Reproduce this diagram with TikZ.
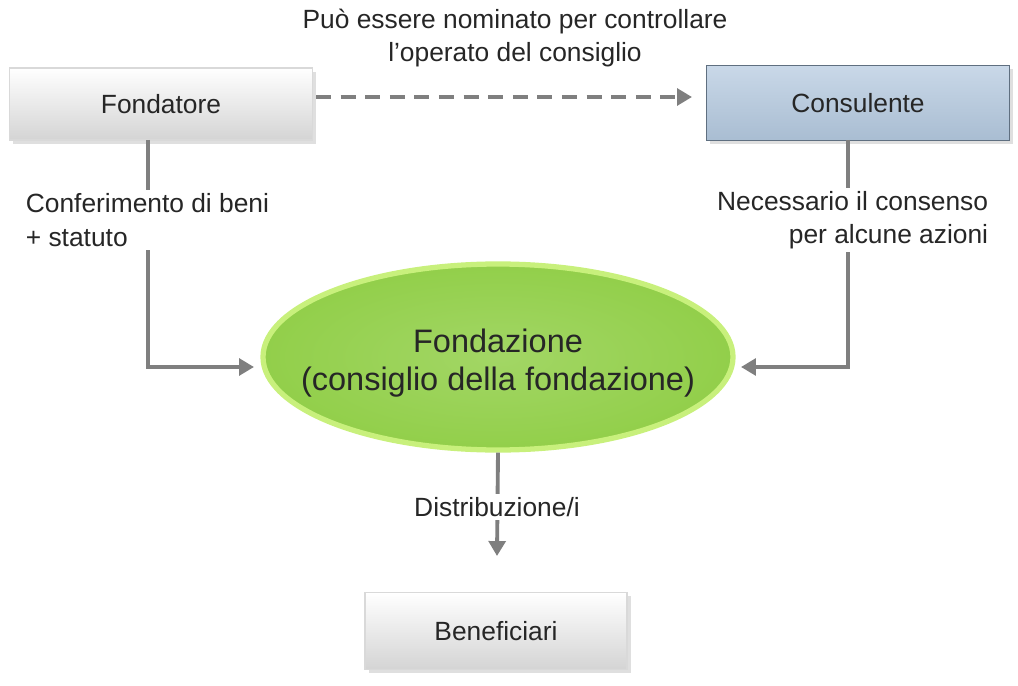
\documentclass[tikz,border=0pt]{standalone}
\usepackage{fontspec}
\setmainfont{Liberation Sans}
\usetikzlibrary{arrows.meta,shapes.geometric,shadows}
\definecolor{linegray}{HTML}{7F7F7F}
\definecolor{boxbot}{HTML}{D4D4D4}
\definecolor{bluetop}{HTML}{C9D8E8}
\definecolor{bluebot}{HTML}{A9BDD2}
\definecolor{blueedge}{HTML}{5F6F80}
\definecolor{greenfill}{HTML}{92CF4A}
\definecolor{greenedge}{HTML}{C8F07C}
\definecolor{txt}{HTML}{262626}
\tikzset{
  graybox/.style={rectangle, minimum width=303*0.02cm, minimum height=72*0.02cm,
    top color=white, bottom color=boxbot, draw=white!85!black, line width=0.6pt,
    drop shadow={shadow xshift=2pt,shadow yshift=-2pt,opacity=0.25},
    font=\fontsize{15}{18}\selectfont, text=txt},
  bluebox/.style={rectangle, minimum width=303*0.02cm, minimum height=75*0.02cm,
    top color=bluetop, bottom color=bluebot, draw=blueedge, line width=1pt,
    drop shadow={shadow xshift=2pt,shadow yshift=-2pt,opacity=0.25},
    font=\fontsize{15}{18}\selectfont, text=txt},
  oval/.style={ellipse, minimum width=470*0.02cm, minimum height=186*0.02cm,
    inner color=greenfill!85!white, outer color=greenfill, draw=greenedge, line width=3pt,
    font=\fontsize{18.5}{22}\selectfont, text=txt, align=center},
  conn/.style={draw=linegray, line width=2.2pt, -{Triangle[length=8.5pt,width=9.5pt]}},
  lbl/.style={fill=white, font=\fontsize{15}{19}\selectfont, text=txt, inner sep=2pt},
}
\begin{document}
\begin{tikzpicture}[x=0.02cm,y=-0.02cm]
\useasboundingbox (0,0) rectangle (1018,686);
\node[graybox] (fond) at (161,104) {Fondatore};
\node[bluebox] (cons) at (858,103) {Consulente};
\node[oval] (fdz) at (498,357) {};
\node[font=\fontsize{18.5}{22}\selectfont, text=txt, align=center] (fdzt) at (498,363) {Fondazione\\(consiglio della fondazione)};
\node[graybox, minimum width=262*0.02cm, minimum height=77*0.02cm] (ben) at (496,631) {Beneficiari};

\coordinate (fb) at (148,140);
\coordinate (cb) at (848,140);
\coordinate (fl) at (148,367);
\coordinate (cl) at (848,367);
\coordinate (el) at (254,367);
\coordinate (er) at (741,367);
\coordinate (ds) at (316,97);
\coordinate (de) at (692,97);
\coordinate (bt) at (497,556);

\draw[conn, dash pattern=on 8.5pt off 5.5pt] (ds) -- (de);
\node[font=\fontsize{15}{19}\selectfont, text=txt, align=center] (lab1) at (515,38) {Può essere nominato per controllare\\l’operato del consiglio};

\draw[conn] (fb) -- (fl) -- (el);
\draw[conn] (cb) -- (cl) -- (er);
\node[lbl, align=left, anchor=west] (lab2) at (22,220) {Conferimento di beni\\+ statuto};
\node[lbl, align=right, anchor=east] (lab3) at (992,220) {Necessario il consenso\\per alcune azioni};

\draw[conn] (fdz.south) -- (bt);
\node[lbl] (lab4) at (497,507) {Distribuzione/i};
\end{tikzpicture}
\end{document}
